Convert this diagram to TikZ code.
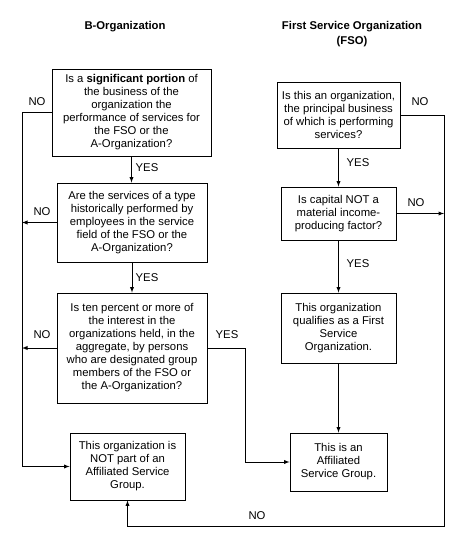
\documentclass[tikz,border=0pt]{standalone}
\usepackage{fontspec}
\setmainfont{Liberation Sans}
\usetikzlibrary{arrows}

\begin{document}
\begin{tikzpicture}[x=1pt,y=-1pt,
box/.style={draw, line width=0.9pt, align=center, inner sep=0pt, font=\fontsize{11.3}{13}\selectfont},
paths/.style={->, line width=0.9pt, -latex},
lbl/.style={font=\fontsize{11.3}{13}\selectfont, inner sep=0pt},
title/.style={font=\bfseries\fontsize{11.3}{15}\selectfont, align=center, inner sep=0pt}
]
\useasboundingbox (0,0) rectangle (468,536);

%create nodes
\node[title] (tb) at (125,27) {B-Organization};
\node[title] (tf) at (352,34) {First Service Organization\\(FSO)};

\node[box, minimum width=159pt, minimum height=87pt] (b1) at (131.5,112.5) {Is a \textbf{significant portion} of\\the business of the\\organization the\\performance of services for\\the FSO or the\\A-Organization?};
\node[box, minimum width=150pt, minimum height=79pt] (b2) at (132,222.5) {Are the services of a type\\historically performed by\\employees in the service\\field of the FSO or the\\A-Organization?};
\node[box, minimum width=150pt, minimum height=110pt] (b3) at (132,348) {Is ten percent or more of\\the interest in the\\organizations held, in the\\aggregate, by persons\\who are designated group\\members of the FSO or\\the A-Organization?};
\node[box, minimum width=115pt, minimum height=67pt] (b4) at (127.5,466.5) {This organization is\\NOT part of an\\Affiliated Service\\Group.};

\node[box, minimum width=123pt, minimum height=66pt] (f1) at (338.5,115) {Is this an organization,\\the principal business\\of which is performing\\services?};
\node[box, minimum width=115pt, minimum height=53pt] (f2) at (338.5,213.5) {Is capital NOT a\\material income-\\producing factor?};
\node[box, minimum width=115pt, minimum height=70pt] (f3) at (338.5,328) {This organization\\qualifies as a First\\Service\\Organization.};
\node[box, minimum width=97pt, minimum height=58pt] (f4) at (338.5,462) {This is an\\Affiliated\\Service Group.};

\coordinate (lx) at (22,0);
\coordinate (yx) at (245,0);
\coordinate (rx) at (444,0);
\coordinate (ry) at (0,526);

%labels
\node[lbl] (no1) at (37,102) {NO};
\node[lbl] (no2) at (42,212) {NO};
\node[lbl] (no3) at (42,335) {NO};
\node[lbl] (yes1) at (147,168) {YES};
\node[lbl] (yes2) at (147,278) {YES};
\node[lbl] (yes3) at (227,335) {YES};
\node[lbl] (no4) at (420,102) {NO};
\node[lbl] (no5) at (416,203) {NO};
\node[lbl] (no6) at (257,516) {NO};
\node[lbl] (yes4) at (358,163) {YES};
\node[lbl] (yes5) at (358,264) {YES};

%draw paths
\draw[paths] (b1.south) -- (b1.south |- b2.north);
\draw[paths] (b2.south) -- (b2.south |- b3.north);
\draw[paths] (b1.west) -- (b1.west -| lx) -- (lx |- b4.west) -- (b4.west);
\draw[paths] (b2.west) -- (b2.west -| lx);
\draw[paths] (b3.west) -- (b3.west -| lx);
\draw[paths] (b3.east) -- (b3.east -| yx) -- (yx |- f4.west) -- (f4.west);

\draw[paths] (f1.south) -- (f1.south |- f2.north);
\draw[paths] (f2.south) -- (f2.south |- f3.north);
\draw[paths] (f3.south) -- (f3.south |- f4.north);
\draw[paths] (f1.east) -- (f1.east -| rx) -- (rx |- ry) -- (ry -| b4.south) -- (b4.south);
\draw[paths] (f2.east) -- (f2.east -| rx);

\end{tikzpicture}
\end{document}
